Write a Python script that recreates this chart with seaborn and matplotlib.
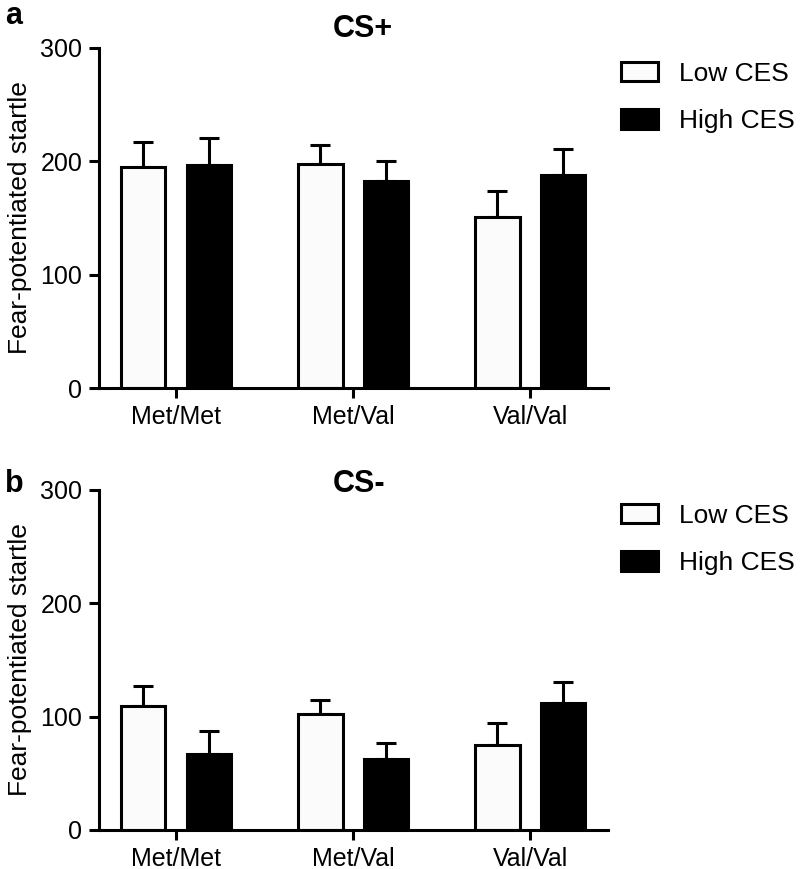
import matplotlib
matplotlib.use("Agg")
import matplotlib.pyplot as plt
import pandas as pd
import seaborn as sns

genotypes = ["Met/Met", "Met/Val", "Val/Val"]
groups = ["Low CES", "High CES"]

# panel a: CS+
cs_plus_low = [195, 198, 151]
cs_plus_high = [197, 183, 188]
cs_plus_low_sem = [22, 16, 23]
cs_plus_high_sem = [24, 17, 23]

# panel b: CS-
cs_minus_low = [109, 102, 75]
cs_minus_high = [67, 63, 112]
cs_minus_low_sem = [18, 13, 19]
cs_minus_high_sem = [20, 14, 19]

sns.set_style("ticks")
plt.rcParams["font.family"] = ["Liberation Sans", "DejaVu Sans"]
plt.rcParams["text.color"] = "black"
plt.rcParams["axes.labelcolor"] = "black"
plt.rcParams["xtick.color"] = "black"
plt.rcParams["ytick.color"] = "black"

LW = 2.2
fig = plt.figure(figsize=(8, 8.69), dpi=100)
ax_top = fig.add_axes([0.12375, 0.5535, 0.63625, 0.3913])
ax_bot = fig.add_axes([0.12375, 0.04488, 0.63625, 0.3913])


def draw_panel(ax, low, high, low_sem, high_sem, title, title_y):
    df = pd.DataFrame({
        "genotype": genotypes * 2,
        "group": [groups[0]] * 3 + [groups[1]] * 3,
        "value": low + high,
    })
    sns.barplot(data=df, x="genotype", y="value", hue="group",
                order=genotypes, hue_order=groups,
                palette={"Low CES": "#fbfbfb", "High CES": "black"},
                saturation=1, width=0.745, gap=0.32, errorbar=None,
                edgecolor="black", linewidth=LW, ax=ax)
    for container, sem in zip(ax.containers, [low_sem, high_sem]):
        xs = [p.get_x() + p.get_width() / 2 for p in container]
        ys = [p.get_height() for p in container]
        ax.errorbar(xs, ys, yerr=[[0] * len(sem), sem], fmt="none",
                    ecolor="black", elinewidth=LW, capsize=7.4,
                    capthick=LW, zorder=0.5)

    ax.set_ylim(0, 300)
    ax.set_yticks([0, 100, 200, 300])
    ax.set_xlim(-0.435, 2.44)
    ax.set_xlabel("")
    ax.set_ylabel("Fear-potentiated startle", fontsize=19, labelpad=6)
    ax.tick_params(axis="both", labelsize=18, width=LW, length=7,
                   color="black", labelcolor="black", pad=5)
    for side in ["left", "bottom"]:
        ax.spines[side].set_linewidth(LW)
        ax.spines[side].set_color("black")
    sns.despine(ax=ax)

    ax.text(0.46, title_y, title, transform=ax.transAxes, ha="left",
            va="baseline", fontsize=22, fontweight="bold")

    handles, labels = ax.get_legend_handles_labels()
    ax.legend(handles, labels, loc="upper left", bbox_to_anchor=(1.0255, 0.96),
              frameon=False, fontsize=19, handlelength=1.4, handleheight=0.75,
              handletextpad=0.8, labelspacing=0.9, borderpad=0,
              borderaxespad=0)


draw_panel(ax_top, cs_plus_low, cs_plus_high, cs_plus_low_sem,
           cs_plus_high_sem, "CS+", 1.032)
draw_panel(ax_bot, cs_minus_low, cs_minus_high, cs_minus_low_sem,
           cs_minus_high_sem, "CS-", 0.994)

fig.text(5 / 800, 1 - 1 / 869, "a", fontsize=22, fontweight="bold",
         va="top")
fig.text(5 / 800, 1 - 492 / 869, "b", fontsize=22, fontweight="bold",
         va="baseline")

fig.savefig("out.png", dpi=100)
plt.close(fig)
